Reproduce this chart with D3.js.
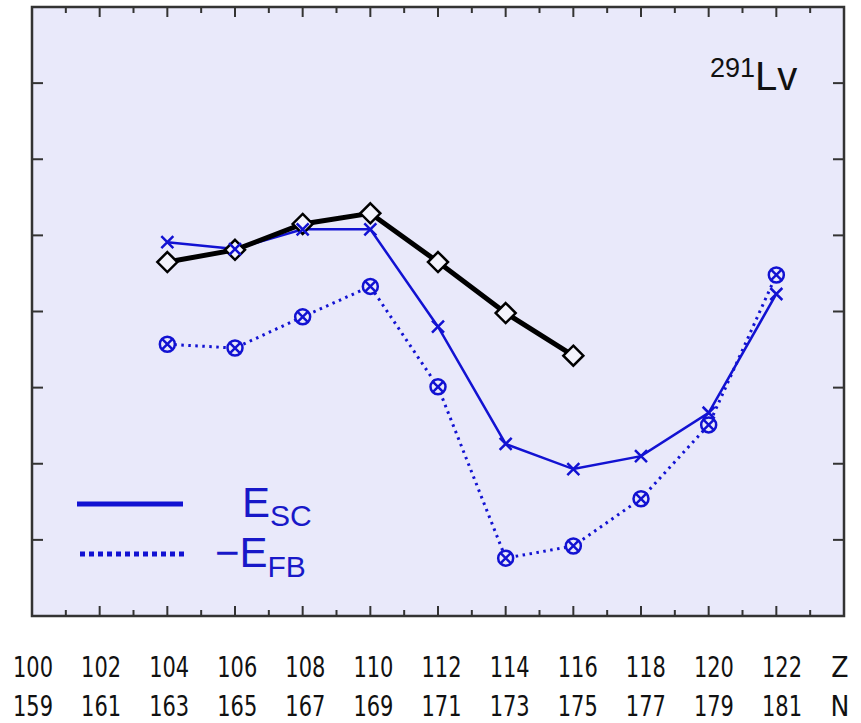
<!DOCTYPE html>
<html>
<head>
<meta charset="utf-8">
<script src="https://cdn.jsdelivr.net/npm/d3@7"></script>
<style>
  body { margin: 0; background: #fff; }
  svg { display: block; }
</style>
</head>
<body>
<svg width="861" height="723"></svg>
<script>
// proton numbers and matching neutron numbers, as printed below the frame
const zLabels = ["100", "102", "104", "106", "108", "110", "112", "114", "116", "118", "120", "122", "Z"]
const nLabels = ["159", "161", "163", "165", "167", "169", "171", "173", "175", "177", "179", "181", "N"]
const labelZ = [100, 102, 104, 106, 108, 110, 112, 114, 116, 118, 120, 122, 124]

// black curve (diamonds), Z = 104..116
const zBlack = [104, 106, 108, 110, 112, 114, 116]
const eBlack = [4.65, 4.81, 5.15, 5.29, 4.65, 3.98, 3.42]

// blue series, Z = 104..122
const zBlue = [104, 106, 108, 110, 112, 114, 116, 118, 120, 122]
const eSC = [4.91, 4.82, 5.08, 5.08, 3.80, 2.26, 1.93, 2.10, 2.67, 4.23]
const eFBneg = [3.57, 3.52, 3.93, 4.33, 3.01, 0.76, 0.92, 1.54, 2.51, 4.48]

const yTicks = [1, 2, 3, 4, 5, 6, 7]

const blue = "#1212d2"
const frameColor = "#333"

let svg = d3.select("svg")

let plotL = 32, plotR = 844, plotT = 7, plotB = 616

let x = d3.scaleLinear().domain([100, 124]).range([plotL, plotR])
let y = d3.scaleLinear().domain([0, 8]).range([plotB, plotT])
// labels below sit a hair wider than the ticks, like the picture
let xLabel = d3.scaleLinear().domain([100, 122]).range([33, 782])

svg.append("rect")
   .attr("x", plotL)
   .attr("y", plotT)
   .attr("width", plotR - plotL)
   .attr("height", plotB - plotT)
   .attr("fill", "#e9e9fa")

// ticks, inside, on all four sides
let xTickVals = d3.range(100, 125)
let gTicks = svg.append("g").attr("stroke", frameColor).attr("stroke-width", 2)

gTicks.selectAll("line.bt")
      .data(xTickVals)
      .enter()
      .append("line")
      .attr("x1", d => x(d))
      .attr("x2", d => x(d))
      .attr("y1", plotB)
      .attr("y2", d => plotB - (d % 2 === 0 ? 10 : 6))

gTicks.selectAll("line.tp")
      .data(xTickVals)
      .enter()
      .append("line")
      .attr("x1", d => x(d))
      .attr("x2", d => x(d))
      .attr("y1", plotT)
      .attr("y2", d => plotT + (d % 2 === 0 ? 10 : 6))

gTicks.selectAll("line.lf")
      .data(yTicks)
      .enter()
      .append("line")
      .attr("x1", plotL)
      .attr("x2", plotL + 11)
      .attr("y1", d => y(d))
      .attr("y2", d => y(d))

gTicks.selectAll("line.rt")
      .data(yTicks)
      .enter()
      .append("line")
      .attr("x1", plotR)
      .attr("x2", plotR - 11)
      .attr("y1", d => y(d))
      .attr("y2", d => y(d))

svg.append("rect")
   .attr("x", plotL)
   .attr("y", plotT)
   .attr("width", plotR - plotL)
   .attr("height", plotB - plotT)
   .attr("fill", "none")
   .attr("stroke", frameColor)
   .attr("stroke-width", 2.5)

// tick labels (narrow digits, squeezed to the picture's width)
const tickFont = "'DejaVu Sans Condensed', 'DejaVu Sans', sans-serif"

function tickRow(labels, yPos) {
  let t = svg.append("g")
             .selectAll("text")
             .data(labels)
             .enter()
             .append("text")
             .attr("x", (d, i) => d.length === 1 ? x(labelZ[i]) - 4 : xLabel(labelZ[i]))
             .attr("y", yPos)
             .attr("text-anchor", "middle")
             .style("font-family", tickFont)
             .style("font-size", "28px")
             .attr("fill", "#111")
             .text(d => d)
  t.filter(d => d.length === 3)
   .attr("textLength", 40)
   .attr("lengthAdjust", "spacingAndGlyphs")
}
tickRow(zLabels, 677)
tickRow(nLabels, 716)

// curves
let blackPts = zBlack.map((z, i) => [z, eBlack[i]])
let scPts = zBlue.map((z, i) => [z, eSC[i]])
let fbPts = zBlue.map((z, i) => [z, eFBneg[i]])

let line = d3.line().x(d => x(d[0])).y(d => y(d[1]))

svg.append("path")
   .attr("d", line(fbPts))
   .attr("fill", "none")
   .attr("stroke", blue)
   .attr("stroke-width", 3)
   .attr("stroke-dasharray", "2.5,4.5")

svg.append("path")
   .attr("d", line(scPts))
   .attr("fill", "none")
   .attr("stroke", blue)
   .attr("stroke-width", 2.5)

svg.append("path")
   .attr("d", line(blackPts))
   .attr("fill", "none")
   .attr("stroke", "#000")
   .attr("stroke-width", 5)

// circled crosses
let otimes = svg.selectAll("g.ot")
                .data(fbPts)
                .enter()
                .append("g")
                .attr("transform", d => `translate(${x(d[0])},${y(d[1])})`)
otimes.append("circle")
      .attr("r", 7.5)
      .attr("fill", "#e9e9fa")
      .attr("stroke", blue)
      .attr("stroke-width", 2.5)
otimes.append("path")
      .attr("d", "M-5,-5L5,5M-5,5L5,-5")
      .attr("stroke", blue)
      .attr("stroke-width", 2.5)

// diamonds
svg.selectAll("path.dm")
   .data(blackPts)
   .enter()
   .append("path")
   .attr("d", "M0,-10L10,0L0,10L-10,0Z")
   .attr("transform", d => `translate(${x(d[0])},${y(d[1])})`)
   .attr("fill", "#f3f3fc")
   .attr("stroke", "#000")
   .attr("stroke-width", 2.5)

// crosses
svg.selectAll("path.cr")
   .data(scPts)
   .enter()
   .append("path")
   .attr("d", "M-6,-6L6,6M-6,6L6,-6")
   .attr("transform", d => `translate(${x(d[0])},${y(d[1])})`)
   .attr("stroke", blue)
   .attr("stroke-width", 2.5)

// legend
const legFont = "'Liberation Sans', Arial, sans-serif"

svg.append("line")
   .attr("x1", 77).attr("x2", 183)
   .attr("y1", 504).attr("y2", 504)
   .attr("stroke", blue)
   .attr("stroke-width", 5)

svg.append("line")
   .attr("x1", 80).attr("x2", 186)
   .attr("y1", 554).attr("y2", 554)
   .attr("stroke", blue)
   .attr("stroke-width", 5)
   .attr("stroke-dasharray", "5,4")

let tSC = svg.append("text")
             .attr("x", 242)
             .attr("y", 517)
             .style("font-family", legFont)
             .style("font-size", "42px")
             .attr("fill", "#1818c8")
tSC.append("tspan").text("E")
tSC.append("tspan").attr("dy", 9).style("font-size", "30px").text("SC")

let tFB = svg.append("text")
             .attr("x", 215)
             .attr("y", 567)
             .style("font-family", legFont)
             .style("font-size", "42px")
             .attr("fill", "#1818c8")
tFB.append("tspan").text("−E")
tFB.append("tspan").attr("dy", 10).style("font-size", "30px").text("FB")

// nucleus label
let tLv = svg.append("text")
             .attr("x", 710)
             .attr("y", 90)
             .style("font-family", legFont)
             .attr("fill", "#111")
tLv.append("tspan").attr("dy", -13).style("font-size", "27px").text("291")
tLv.append("tspan").attr("dy", 13).style("font-size", "40px").text("Lv")
</script>
</body>
</html>
